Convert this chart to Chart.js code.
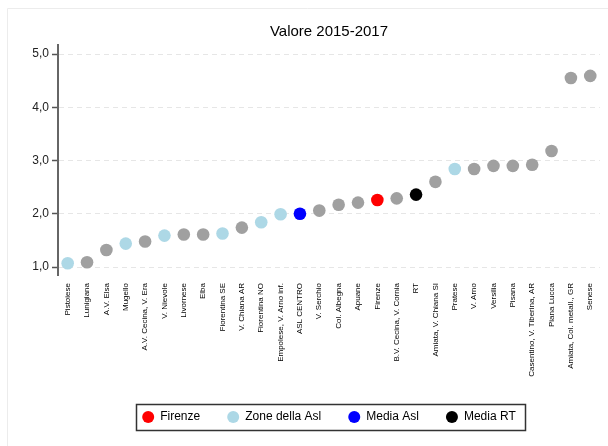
<!DOCTYPE html>
<html>
<head>
<meta charset="utf-8">
<script src="https://cdn.jsdelivr.net/npm/chart.js@4.4.0/dist/chart.umd.min.js"></script>
<style>
  html, body { margin: 0; padding: 0; background: #fff; }
  #wrap { width: 608px; height: 446px; }
</style>
</head>
<body>
<div id="wrap"><canvas id="myChart"></canvas></div>
<script>
// valori per zona, ordinati dal piu' basso al piu' alto
var zone = ['Pistoiese', 'Lunigiana', 'A.V. Elsa', 'Mugello', 'A.V. Cecina, V. Era',
  'V. Nievole', 'Livornese', 'Elba', 'Fiorentina SE', 'V. Chiana AR', 'Fiorentina NO',
  'Empolese, V. Arno inf.', 'ASL CENTRO', 'V. Serchio', 'Col. Albegna', 'Apuane',
  'Firenze', 'B.V. Cecina, V. Cornia', 'RT', 'Amiata, V. Chiana SI', 'Pratese',
  'V. Arno', 'Versilia', 'Pisana', 'Casentino, V. Tiberina, AR', 'Piana Lucca',
  'Amiata, Col. metall., GR', 'Senese'];

var valori = [1.07, 1.09, 1.32, 1.44, 1.48, 1.59, 1.61, 1.61, 1.63, 1.74, 1.84,
  1.99, 2.00, 2.06, 2.17, 2.21, 2.26, 2.29, 2.36, 2.60, 2.84, 2.84, 2.90, 2.90,
  2.92, 3.18, 4.55, 4.59];

// gruppo di ogni punto
var gruppo = ['asl', 'altro', 'altro', 'asl', 'altro', 'asl', 'altro', 'altro', 'asl',
  'altro', 'asl', 'asl', 'media_asl', 'altro', 'altro', 'altro', 'firenze', 'altro',
  'rt', 'altro', 'asl', 'altro', 'altro', 'altro', 'altro', 'altro', 'altro', 'altro'];

var gruppi = ['firenze', 'asl', 'media_asl', 'rt', 'altro'];
var etichette = ['Firenze', 'Zone della Asl', 'Media Asl', 'Media RT', 'Altre zone'];
var colori = ['#ff0000', '#add8e6', '#0000ff', '#000000', '#a0a0a0'];

var yTicks = [1, 2, 3, 4, 5];

function serie(g) {
    return valori.map(function (v, i) { return gruppo[i] === g ? v : null; });
}

var datasets = gruppi.map(function (g, k) {
    return {
        label: etichette[k],
        data: serie(g),
        showLine: false,
        pointStyle: 'circle',
        pointRadius: 6.3,
        pointHoverRadius: 6.3,
        borderWidth: 0,
        backgroundColor: colori[k],
        borderColor: colori[k],
        pointBackgroundColor: colori[k],
        order: g === 'altro' ? 1 : 0
    };
});

// cornice esterna e riquadro della legenda
var cornice = {
    id: 'cornice',
    beforeDraw: function (chart) {
        var ctx = chart.ctx;
        ctx.save();
        ctx.fillStyle = '#fff';
        ctx.fillRect(0, 0, chart.width, chart.height);
        ctx.strokeStyle = '#ececec';
        ctx.lineWidth = 1;
        ctx.beginPath();
        ctx.moveTo(7.5, chart.height);
        ctx.lineTo(7.5, 8.5);
        ctx.lineTo(chart.width, 8.5);
        ctx.stroke();
        ctx.restore();
    },
    afterDraw: function (chart) {
        var hb = chart.legend.legendHitBoxes;
        if (!hb || !hb.length) return;
        var l = Infinity, r = -Infinity, t = Infinity, b = -Infinity;
        hb.forEach(function (h) {
            l = Math.min(l, h.left); r = Math.max(r, h.left + h.width);
            t = Math.min(t, h.top); b = Math.max(b, h.top + h.height);
        });
        var ctx = chart.ctx;
        ctx.save();
        ctx.strokeStyle = '#333';
        ctx.lineWidth = 1.5;
        ctx.strokeRect(Math.round(l - 6) + 0.5, Math.round(t - 7) + 0.5,
            Math.round(r - l + 15), Math.round(b - t + 14));
        ctx.restore();
    }
};

var ctx = document.getElementById('myChart').getContext('2d');
var myChart = new Chart(ctx, {
    type: 'line',
    data: { labels: zone, datasets: datasets },
    plugins: [cornice],
    options: {
        responsive: true,
        maintainAspectRatio: false,
        animation: false,
        layout: { padding: { left: 0, right: 8, top: 0, bottom: 13 } },
        plugins: {
            title: {
                display: true,
                text: 'Valore 2015-2017',
                fullSize: false,
                color: '#000',
                font: { family: '"Liberation Sans", Arial, sans-serif', size: 15, weight: 'normal' },
                padding: { top: 23, bottom: 4 }
            },
            legend: {
                position: 'bottom',
                fullSize: false,
                labels: {
                    usePointStyle: true,
                    boxWidth: 12,
                    boxHeight: 8.5,
                    padding: 27,
                    color: '#000',
                    font: { family: '"Liberation Sans", Arial, sans-serif', size: 12 },
                    filter: function (item) { return item.text !== 'Altre zone'; }
                }
            },
            tooltip: { enabled: false }
        },
        scales: {
            x: {
                offset: true,
                grid: { display: false, drawTicks: false },
                border: { display: false },
                ticks: {
                    autoSkip: false,
                    minRotation: 90,
                    maxRotation: 90,
                    padding: 8,
                    color: '#000',
                    font: { family: '"Liberation Sans", Arial, sans-serif', size: 8 }
                },
                afterFit: function (s) { s.height = 109; }
            },
            y: {
                min: 0.85,
                max: 5.17,
                afterFit: function (s) { s.width = 58; },
                afterBuildTicks: function (s) {
                    s.ticks = yTicks.map(function (v) { return { value: v }; });
                },
                border: { display: true, color: '#666', width: 2, dash: [5, 4] },
                grid: {
                    color: '#e6e6e6',
                    tickColor: '#555',
                    tickLength: 6,
                    tickWidth: 1.5,
                    tickBorderDash: [1, 0]
                },
                ticks: {
                    padding: 3,
                    color: '#222',
                    font: { family: '"Liberation Sans", Arial, sans-serif', size: 12 },
                    callback: function (v) { return v.toFixed(1).replace('.', ','); }
                }
            }
        }
    }
});
</script>
</body>
</html>
